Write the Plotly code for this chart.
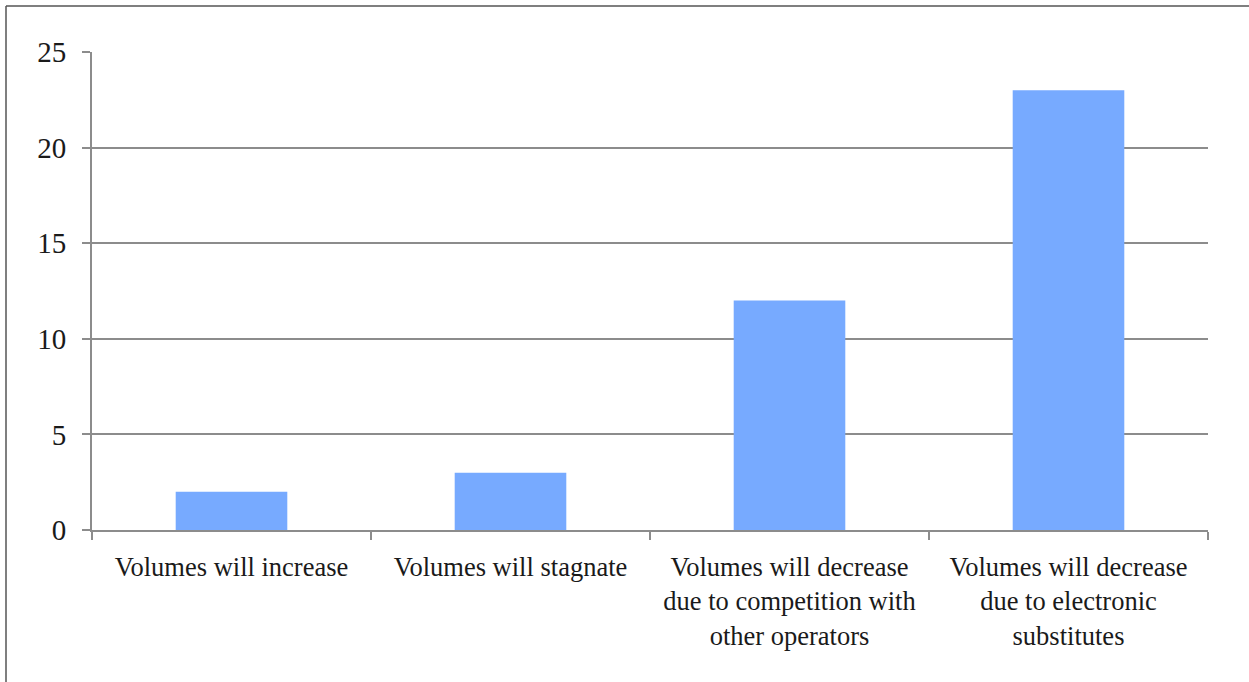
import plotly.graph_objects as go

# Survey responses: expected development of mail volumes
categories = [
    "Volumes will increase",
    "Volumes will stagnate",
    "Volumes will decrease<br>due to competition with<br>other operators",
    "Volumes will decrease<br>due to electronic<br>substitutes",
]
responses = [2, 3, 12, 23]
y_ticks = [0, 5, 10, 15, 20, 25]

W, H = 1249, 682
L, R, T, B = 92, 41, 52, 152
pw, ph = W - L - R, H - T - B

grey = "#8c8c8c"
serif = "Liberation Serif, Times New Roman, serif"

fig = go.Figure(
    go.Bar(
        x=categories,
        y=responses,
        marker=dict(color="#77aaff", line=dict(width=0)),
        width=0.4,
    )
)

fig.update_layout(
    width=W,
    height=H,
    margin=dict(l=L, r=R, t=T, b=B, pad=0),
    paper_bgcolor="white",
    plot_bgcolor="white",
    showlegend=False,
    font=dict(family=serif, size=26, color="#1a1a1a"),
    xaxis=dict(
        type="category",
        tickson="boundaries",
        ticks="outside",
        ticklen=8,
        tickwidth=2,
        tickcolor=grey,
        showline=True,
        linecolor=grey,
        linewidth=2,
        showgrid=False,
        ticklabelstandoff=12,
        tickfont=dict(family=serif, size=26.5, color="#1a1a1a"),
    ),
    yaxis=dict(
        range=[0, 25],
        tickvals=y_ticks,
        ticks="outside",
        ticklen=8,
        tickwidth=2,
        tickcolor=grey,
        showline=True,
        linecolor=grey,
        linewidth=2,
        showgrid=True,
        gridcolor=grey,
        gridwidth=2,
        zeroline=False,
        ticklabelstandoff=10,
        tickfont=dict(family=serif, size=29, color="#1a1a1a"),
    ),
)

# Frame lines along the top and left edges of the figure
def px_to_paper_x(px):
    return (px - L) / pw

def px_to_paper_y(py):
    return (H - B - py) / ph

frame = dict(color="#555555", width=1.5)
fig.add_shape(type="line", xref="paper", yref="paper",
              x0=px_to_paper_x(6), x1=px_to_paper_x(W + 5),
              y0=px_to_paper_y(6), y1=px_to_paper_y(6), line=frame)
fig.add_shape(type="line", xref="paper", yref="paper",
              x0=px_to_paper_x(6), x1=px_to_paper_x(6),
              y0=px_to_paper_y(6), y1=px_to_paper_y(H + 5), line=frame)

fig.write_html("out.html")
